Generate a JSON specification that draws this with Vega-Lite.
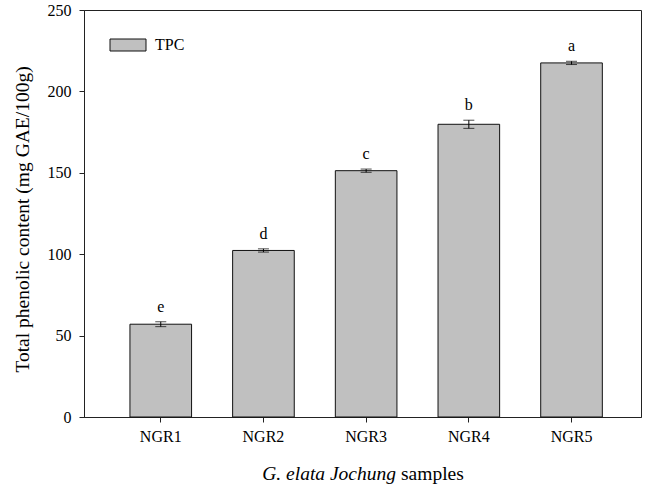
{
  "$schema": "https://vega.github.io/schema/vega-lite/v6.json",
  "width": 557,
  "height": 407,
  "autosize": "none",
  "padding": {"left": 84, "top": 10, "right": 11, "bottom": 69},
  "background": "white",
  "config": {
    "view": {"stroke": "#222", "strokeWidth": 1},
    "font": "Liberation Serif",
    "axis": {
      "labelFont": "Liberation Serif",
      "labelFontSize": 16,
      "labelColor": "black",
      "titleFont": "Liberation Serif",
      "titleFontSize": 19.5,
      "titleFontWeight": "normal",
      "titleColor": "black",
      "domainColor": "#222",
      "tickColor": "#222",
      "tickSize": 5,
      "grid": false
    }
  },
  "data": {
    "values": [
      {"sample": "NGR1", "tpc": 57.0, "low": 55.5, "high": 58.5, "letter": "e"},
      {"sample": "NGR2", "tpc": 102.3, "low": 101.3, "high": 103.3, "letter": "d"},
      {"sample": "NGR3", "tpc": 151.3, "low": 150.3, "high": 152.3, "letter": "c"},
      {"sample": "NGR4", "tpc": 179.8, "low": 177.3, "high": 182.3, "letter": "b"},
      {"sample": "NGR5", "tpc": 217.5, "low": 216.5, "high": 218.5, "letter": "a"}
    ]
  },
  "layer": [
    {
      "mark": {"type": "bar", "stroke": "#111", "strokeWidth": 1},
      "encoding": {
        "x": {
          "field": "sample",
          "type": "nominal",
          "sort": null,
          "scale": {"paddingInner": 0.4, "paddingOuter": 0.412, "align": 0.543},
          "axis": {
            "orient": "bottom",
            "labelAngle": 0,
            "labelPadding": 6,
            "title": "G. elata Jochung",
            "titleFontStyle": "italic",
            "titleX": 311.5,
            "titleY": 62,
            "titleAlign": "right",
            "titleBaseline": "alphabetic",
            "titleAnchor": null
          }
        },
        "y": {
          "field": "tpc",
          "type": "quantitative",
          "scale": {"domain": [0, 250], "nice": false},
          "axis": {
            "values": [0, 50, 100, 150, 200, 250],
            "labelPadding": 8,
            "title": "Total phenolic content (mg GAE/100g)",
            "titleX": -56,
            "titleY": 209,
            "titleAngle": -90,
            "titleAlign": "center",
            "titleBaseline": "alphabetic"
          }
        },
        "fill": {
          "datum": "TPC",
          "type": "nominal",
          "scale": {"domain": ["TPC"], "range": ["#c0c0c0"]},
          "legend": {
            "title": null,
            "orient": "none",
            "legendX": 36,
            "legendY": 27,
            "padding": 0,
            "symbolType": "M-3,-1H3V1H-3Z",
            "symbolSize": 144,
            "symbolStrokeColor": "#111",
            "symbolStrokeWidth": 1,
            "symbolOpacity": 1,
            "labelFont": "Liberation Serif",
            "labelFontSize": 16,
            "labelColor": "black",
            "labelOffset": 19
          }
        }
      }
    },
    {
      "mark": {"type": "rule", "color": "black", "strokeWidth": 1},
      "encoding": {
        "x": {"field": "sample", "type": "nominal", "sort": null, "axis": null},
        "y": {"field": "low", "type": "quantitative"},
        "y2": {"field": "high"}
      }
    },
    {
      "mark": {"type": "tick", "color": "black", "size": 11, "thickness": 1, "orient": "horizontal"},
      "encoding": {
        "x": {"field": "sample", "type": "nominal", "sort": null, "axis": null},
        "y": {"field": "low", "type": "quantitative"}
      }
    },
    {
      "mark": {"type": "tick", "color": "black", "size": 11, "thickness": 1, "orient": "horizontal"},
      "encoding": {
        "x": {"field": "sample", "type": "nominal", "sort": null, "axis": null},
        "y": {"field": "high", "type": "quantitative"}
      }
    },
    {
      "mark": {"type": "text", "font": "Liberation Serif", "fontSize": 16, "color": "black", "baseline": "alphabetic", "dy": -10},
      "encoding": {
        "x": {
          "field": "sample",
          "type": "nominal",
          "sort": null,
          "axis": {
            "orient": "bottom",
            "labels": false,
            "ticks": false,
            "domain": false,
            "title": "samples",
            "titleX": 316.5,
            "titleY": 62,
            "titleAlign": "left",
            "titleBaseline": "alphabetic",
            "titleAnchor": null
          }
        },
        "y": {"field": "high", "type": "quantitative"},
        "text": {"field": "letter"}
      }
    }
  ],
  "resolve": {"axis": {"x": "independent"}}
}
